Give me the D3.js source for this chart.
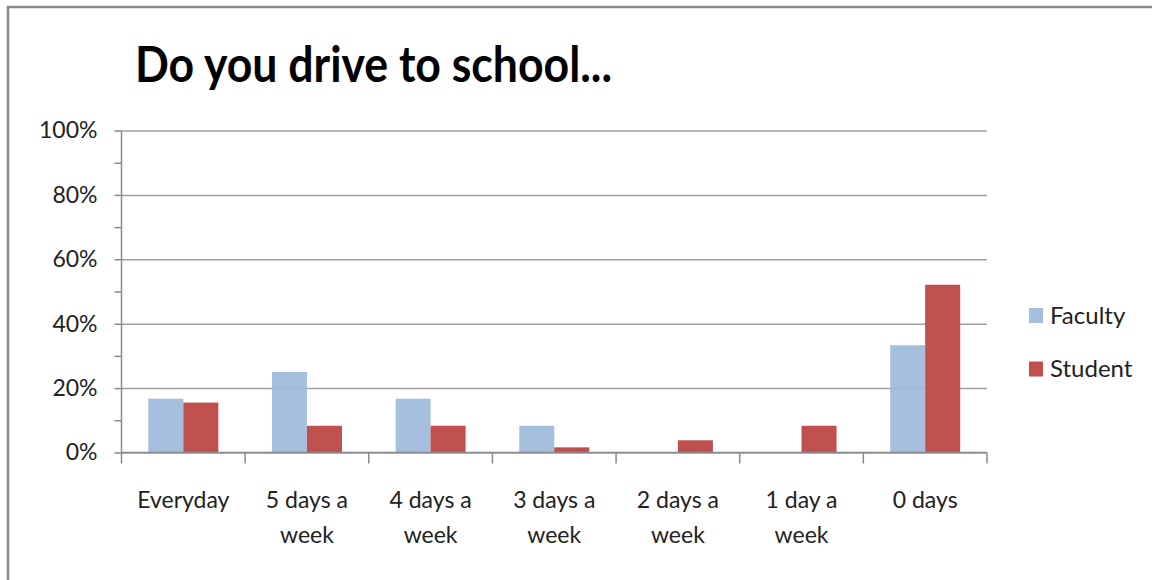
<!DOCTYPE html>
<html lang="en">
<head>
<meta charset="UTF-8">
<script src="https://d3js.org/d3.v7.min.js"></script>
<style>
  body { margin: 0; background: #fff; }
  text { font-family: Lato, "Open Sans", sans-serif; fill: #222; }
</style>
</head>
<body>
<div id="chart"></div>
<script>
// data
var categories = ["Everyday", "5 days a week", "4 days a week", "3 days a week", "2 days a week", "1 day a week", "0 days"];
var catLines = [["Everyday"], ["5 days a", "week"], ["4 days a", "week"], ["3 days a", "week"], ["2 days a", "week"], ["1 day a", "week"], ["0 days"]];
var seriesNames = ["Faculty", "Student"];
var faculty = [0.167, 0.25, 0.167, 0.083, 0, 0, 0.333];
var student = [0.155, 0.083, 0.083, 0.016, 0.038, 0.083, 0.521];
var yTicks = [0, 0.2, 0.4, 0.6, 0.8, 1.0];
var colors = ["#9DB8DB", "#C0504D"];

var W = 1152, H = 580;
var margin = {top: 130.5, left: 121.5};
var width = 987 - margin.left, height = 452.5 - margin.top;

var svg = d3.select("#chart").append("svg")
  .attr("width", W).attr("height", H);

// outer frame
svg.append("rect")
  .attr("x", 8).attr("y", 7)
  .attr("width", W + 20).attr("height", H + 20)
  .attr("fill", "none").attr("stroke", "#8a8a8a").attr("stroke-width", 2.5);

// title
svg.append("text")
  .attr("x", 135).attr("y", 82)
  .attr("textLength", 477).attr("lengthAdjust", "spacingAndGlyphs")
  .style("font-size", "50px").style("font-weight", "bold").style("fill", "#000")
  .text("Do you drive to school...");

var g = svg.append("g").attr("transform", "translate(" + margin.left + "," + margin.top + ")");

var x = d3.scaleBand().domain(categories).range([0, width]);
var xs = d3.scaleBand().domain(seriesNames).range([x.bandwidth() / 2 - 35, x.bandwidth() / 2 + 35]);
var y = d3.scaleLinear().domain([0, 1]).range([height, 0]);

// minor ticks at 10%
g.append("g")
  .call(d3.axisLeft(y).tickValues(d3.range(0, 1.01, 0.1)).tickSize(7).tickFormat(""))
  .call(function(a) { a.select(".domain").remove(); })
  .selectAll("line").attr("stroke", "#8a8a8a").attr("stroke-width", 1.5);

// gridlines + labels
var yAxis = g.append("g")
  .call(d3.axisLeft(y).tickValues(yTicks).tickSize(-width).tickFormat(d3.format(".0%")));
yAxis.select(".domain").remove();
yAxis.selectAll("line").attr("stroke", "#a0a0a0").attr("stroke-width", 1.5);
yAxis.selectAll("text").attr("x", -24).attr("text-anchor", "end")
  .style("font-size", "23px").style("fill", "#222");

// bars
var rows = categories.map(function(c, i) { return {cat: c, vals: [faculty[i], student[i]]}; });
var grp = g.selectAll(".grp").data(rows).enter().append("g")
  .attr("transform", function(d) { return "translate(" + x(d.cat) + ",0)"; });
grp.selectAll("rect").data(function(d) { return d.vals.map(function(v, j) { return {s: seriesNames[j], v: v, j: j}; }); })
  .enter().append("rect")
  .attr("x", function(d) { return xs(d.s); })
  .attr("width", xs.bandwidth())
  .attr("y", function(d) { return y(d.v); })
  .attr("height", function(d) { return height - y(d.v); })
  .attr("fill", function(d) { return colors[d.j]; })
  .attr("fill-opacity", function(d) { return d.j === 0 ? 0.9 : 1; });

// x axis
var xAxis = g.append("g").attr("transform", "translate(0," + height + ")");
xAxis.append("line").attr("x1", 0).attr("x2", width).attr("stroke", "#8a8a8a").attr("stroke-width", 1.5);
xAxis.selectAll(".tk").data(d3.range(categories.length + 1)).enter().append("line")
  .attr("x1", function(i) { return i * x.step(); }).attr("x2", function(i) { return i * x.step(); })
  .attr("y1", 0).attr("y2", 11).attr("stroke", "#8a8a8a").attr("stroke-width", 1.5);
// y axis line
g.append("line").attr("x1", 0).attr("x2", 0).attr("y1", 0).attr("y2", height)
  .attr("stroke", "#8a8a8a").attr("stroke-width", 1.5);

xAxis.selectAll(".lbl").data(categories).enter().append("text")
  .attr("text-anchor", "middle")
  .attr("x", function(c) { return x(c) + x.bandwidth() / 2; })
  .attr("y", 55)
  .style("font-size", "23px")
  .each(function(c, i) {
    var t = d3.select(this);
    catLines[i].forEach(function(line, k) {
      t.append("tspan").attr("x", x(c) + x.bandwidth() / 2).attr("dy", k === 0 ? 0 : 35).text(line);
    });
  });

// legend
var leg = svg.append("g").attr("transform", "translate(1029,308)");
var li = leg.selectAll("g").data(seriesNames).enter().append("g")
  .attr("transform", function(d, i) { return "translate(0," + (i * 53.5) + ")"; });
li.append("rect").attr("width", 14).attr("height", 15).attr("fill", function(d, i) { return colors[i]; })
  .attr("fill-opacity", function(d, i) { return i === 0 ? 0.9 : 1; });
li.append("text").attr("x", 21).attr("y", 7.5).attr("dy", "0.35em").style("font-size", "24px").text(function(d) { return d; });
</script>
</body>
</html>
